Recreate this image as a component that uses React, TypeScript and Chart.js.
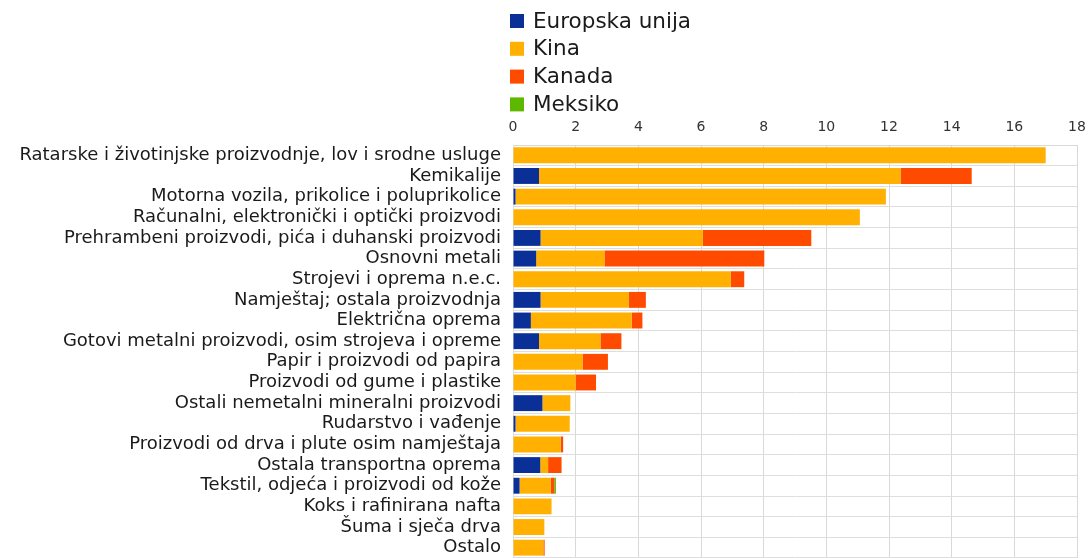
import React, { useEffect, useRef } from "react";
import { Chart, registerables } from "chart.js";

Chart.register(...registerables);

const categories = [
  "Ratarske i životinjske proizvodnje, lov i srodne usluge",
  "Kemikalije",
  "Motorna vozila, prikolice i poluprikolice",
  "Računalni, elektronički i optički proizvodi",
  "Prehrambeni proizvodi, pića i duhanski proizvodi",
  "Osnovni metali",
  "Strojevi i oprema n.e.c.",
  "Namještaj; ostala proizvodnja",
  "Električna oprema",
  "Gotovi metalni proizvodi, osim strojeva i opreme",
  "Papir i proizvodi od papira",
  "Proizvodi od gume i plastike",
  "Ostali nemetalni mineralni proizvodi",
  "Rudarstvo i vađenje",
  "Proizvodi od drva i plute osim namještaja",
  "Ostala transportna oprema",
  "Tekstil, odjeća i proizvodi od kože",
  "Koks i rafinirana nafta",
  "Šuma i sječa drva",
  "Ostalo",
];

const seriesNames = ["Europska unija", "Kina", "Kanada", "Meksiko"];
const seriesColors = ["#0a3097", "#ffb000", "#ff4b00", "#5db800"];

const euValues = [0, 0.83, 0.08, 0, 0.88, 0.74, 0, 0.88, 0.57, 0.83, 0, 0, 0.94, 0.08, 0, 0.87, 0.21, 0, 0, 0];
const chinaValues = [17.0, 11.54, 11.82, 11.07, 5.18, 2.18, 6.95, 2.82, 3.22, 1.96, 2.22, 2.0, 0.89, 1.73, 1.52, 0.25, 0.99, 1.23, 1.0, 0.97];
const canadaValues = [0, 2.27, 0, 0, 3.46, 5.1, 0.43, 0.54, 0.34, 0.67, 0.81, 0.65, 0, 0, 0.08, 0.43, 0.12, 0, 0, 0.04];
const mexicoValues = [0, 0, 0, 0, 0, 0, 0, 0, 0, 0, 0, 0, 0, 0, 0, 0, 0.05, 0, 0, 0];

const xMin = 0;
const xMax = 18;
const xStep = 2;

const legendPlugin = {
  id: "verticalLegend",
  afterDraw(chart: any) {
    const ctx = chart.ctx;
    ctx.save();
    ctx.font = "21.5px 'DejaVu Sans'";
    ctx.textBaseline = "middle";
    ctx.textAlign = "left";
    chart.data.datasets.forEach((ds: any, i: number) => {
      const y = 21 + i * 27.8;
      ctx.fillStyle = ds.backgroundColor;
      ctx.fillRect(510, y - 7, 14, 14);
      ctx.fillStyle = "#1a1a1a";
      ctx.fillText(ds.label, 533, y + 1);
    });
    ctx.restore();
  },
};

export default function App() {
  const canvasRef = useRef<HTMLCanvasElement | null>(null);

  useEffect(() => {
    if (!canvasRef.current) return;
    const valueSets = [euValues, chinaValues, canadaValues, mexicoValues];
    const chart = new Chart(canvasRef.current, {
      type: "bar",
      data: {
        labels: categories,
        datasets: seriesNames.map((name, i) => ({
          label: name,
          data: valueSets[i],
          backgroundColor: seriesColors[i],
          borderWidth: 0,
          categoryPercentage: 1,
          barPercentage: 0.77,
        })),
      },
      options: {
        indexAxis: "y",
        animation: false,
        responsive: false,
        maintainAspectRatio: false,
        layout: { padding: { top: 110, right: 14, bottom: 0, left: 0 } },
        plugins: {
          legend: { display: false },
          tooltip: { enabled: false },
        },
        scales: {
          x: {
            position: "top",
            stacked: true,
            min: xMin,
            max: xMax,
            ticks: {
              stepSize: xStep,
              color: "#333333",
              font: { family: "'DejaVu Sans'", size: 14 },
              padding: 9,
            },
            grid: { color: "#d9d9d9", drawTicks: false },
            border: { color: "#d9d9d9" },
            afterFit(scale: any) {
              scale.height = 35;
              scale.paddingLeft = 0;
              scale.paddingRight = 0;
            },
          },
          y: {
            stacked: true,
            ticks: {
              color: "#1a1a1a",
              font: { family: "'DejaVu Sans'", size: 18 },
              padding: 12,
              autoSkip: false,
            },
            grid: { color: "#dedede", drawTicks: false },
            border: { color: "#dedede" },
            afterFit(scale: any) {
              scale.width = 513;
              scale.paddingTop = 0;
              scale.paddingBottom = 0;
            },
          },
        },
      },
      plugins: [legendPlugin],
    } as any);
    return () => chart.destroy();
  }, []);

  return (
    <div style={{ position: "fixed", left: 0, top: 0, width: 1091, height: 558, background: "#fff" }}>
      <canvas ref={canvasRef} width={1091} height={558} style={{ width: 1091, height: 558 }} />
    </div>
  );
}
